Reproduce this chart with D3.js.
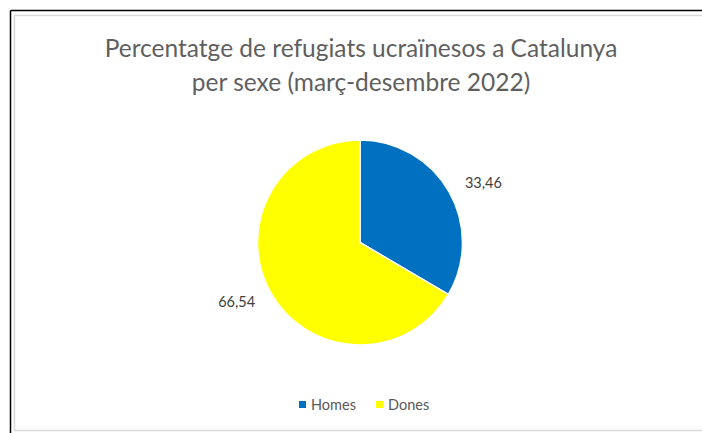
<!DOCTYPE html>
<html><head><meta charset="utf-8">
<script src="https://cdn.jsdelivr.net/npm/d3@7"></script>
<style>html,body{margin:0;padding:0;background:#fff;}svg{display:block;}</style>
</head><body>
<svg id="c" width="702" height="433"></svg>
<script>
const categories = ["Homes", "Dones"];
const values = [33.46, 66.54];
const valueLabels = ["33,46", "66,54"];
const colors = ["#0070C0", "#FFFF00"];
const titleLines = ["Percentatge de refugiats ucraïnesos a Catalunya", "per sexe (març-desembre 2022)"];

const svg = d3.select("#c");
const W = 702, H = 433;
svg.append("rect").attr("width", W).attr("height", H).attr("fill", "#fff");
// frame lines
svg.append("line").attr("x1", 10.5).attr("y1", 10.5).attr("x2", W).attr("y2", 10.5).attr("stroke", "#000").attr("stroke-width", 1.5);
svg.append("line").attr("x1", 10.5).attr("y1", 10.5).attr("x2", 10.5).attr("y2", H).attr("stroke", "#000").attr("stroke-width", 1.5);
svg.append("path").attr("d", `M${W},15.5 H14.5 V430.5 H${W}`).attr("fill", "none").attr("stroke", "#d9d9d9").attr("stroke-width", 1.5);

const font = "Lato, 'Open Sans', sans-serif";
svg.selectAll("text.title").data(titleLines).join("text")
  .attr("class", "title")
  .attr("x", 361).attr("y", (d, i) => 57 + i * 34)
  .attr("text-anchor", "middle")
  .attr("font-family", font).attr("font-size", 24.5)
  .attr("fill", "#5f5f5f").text(d => d);

const cx = 360, cy = 242.5, r = 102.5;
const pie = d3.pie().sort(null).value(d => d);
const arcs = pie(values);
const arc = d3.arc().innerRadius(0).outerRadius(r);
const labelR = 137, labelShift = 4 * Math.PI / 180;
const g = svg.append("g").attr("transform", `translate(${cx},${cy})`);
g.selectAll("path").data(arcs).join("path")
  .attr("d", arc).attr("fill", (d, i) => colors[i])
  .attr("stroke", "#fff").attr("stroke-width", 1.5);
g.selectAll("text").data(arcs).join("text")
  .attr("transform", d => {
    const a = (d.startAngle + d.endAngle) / 2 + labelShift;
    return `translate(${labelR * Math.sin(a)},${-labelR * Math.cos(a)})`;
  })
  .attr("text-anchor", "middle").attr("dy", "0.35em")
  .attr("font-family", font).attr("font-size", 14.5)
  .attr("fill", "#404040").text((d, i) => valueLabels[i]);

// legend
const legendX = [299, 376];
const lg = svg.append("g");
categories.forEach((c, i) => {
  lg.append("rect").attr("x", legendX[i]).attr("y", 401).attr("width", 7).attr("height", 7).attr("fill", colors[i]);
  lg.append("text").attr("x", legendX[i] + 12).attr("y", 410)
    .attr("font-family", font).attr("font-size", 14.5).attr("fill", "#595959").text(c);
});
</script>
</body></html>
